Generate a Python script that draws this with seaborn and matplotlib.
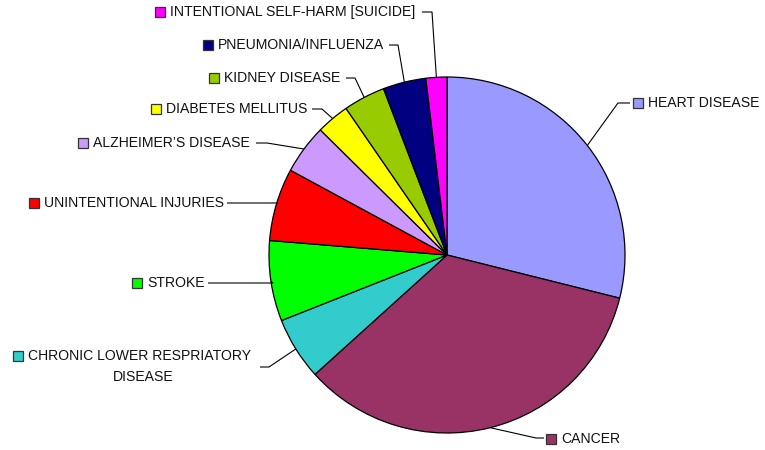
import matplotlib
matplotlib.use("Agg")
import matplotlib.pyplot as plt
import seaborn as sns
import numpy as np
from matplotlib.patches import Rectangle

sns.set_theme(style="white")
plt.rcParams['font.family'] = ['Liberation Sans', 'DejaVu Sans']

categories = ["HEART DISEASE", "CANCER", "CHRONIC LOWER RESPRIATORY\nDISEASE", "STROKE",
              "UNINTENTIONAL INJURIES", "ALZHEIMER\u2019S DISEASE", "DIABETES MELLITUS",
              "KIDNEY DISEASE", "PNEUMONIA/INFLUENZA", "INTENTIONAL SELF-HARM [SUICIDE]"]
values = [28.9, 34.4, 5.7, 7.3, 6.6, 4.5, 3.0, 3.8, 3.9, 1.9]
colors = ["#9999FF", "#993366", "#33CCCC", "#00FF00", "#FF0000", "#CC99FF",
          "#FFFF00", "#99CC00", "#000080", "#FF00FF"]

# layout (pixel coords, y down): elbow point, horizontal end x, square left x, label y
elbows = [(618, 103), (536, 438), (269, 367), (273, 283), (277, 203), (267, 143),
          (322, 109), (355, 78), (398, 45), (432, 12)]
hends = [630, 544, 260, 208, 227, 256, 312, 346, 389, 422]
sq_x = [633, 546, 13, 132, 29, 78, 151, 209, 203, 155]
lab_y = [103, 439, 356, 283, 203, 143, 109, 78, 45, 12]

W, H = 765, 450
fig = plt.figure(figsize=(W / 100, H / 100), dpi=100)
ax = fig.add_axes([0, 0, 1, 1])
cx, cy, R = 447, 255, 178
wedges, _ = ax.pie(values, colors=colors, startangle=90, counterclock=False,
                   center=(cx, H - cy), radius=R, frame=True,
                   wedgeprops=dict(edgecolor="black", linewidth=0.9))
ax.set_xlim(0, W)
ax.set_ylim(0, H)
ax.set_aspect("equal")
ax.axis("off")

fs = 10.1
for i, w in enumerate(wedges):
    mid = np.deg2rad((w.theta1 + w.theta2) / 2)
    px = cx + R * np.cos(mid)
    py = (H - cy) + R * np.sin(mid)
    ex, ey = elbows[i]
    ax.plot([px, ex, hends[i]], [py, H - ey, H - ey], color="black", lw=0.8,
            solid_capstyle="butt", zorder=3)
    ax.add_patch(Rectangle((sq_x[i], H - lab_y[i] - 5), 10, 10, facecolor=colors[i],
                           edgecolor="#333333", lw=0.9, zorder=4))
    if "\n" in categories[i]:
        ax.text(sq_x[i] + 15, H - lab_y[i], categories[i].split("\n")[0], ha="left",
                va="center", fontsize=fs, color="#111111")
        ax.text(143, H - lab_y[i] - 21, categories[i].split("\n")[1], ha="center",
                va="center", fontsize=fs, color="#111111")
    else:
        ax.text(sq_x[i] + 15, H - lab_y[i], categories[i], ha="left", va="center",
                fontsize=fs, color="#111111")

fig.savefig("out.png", dpi=100, facecolor="white")
